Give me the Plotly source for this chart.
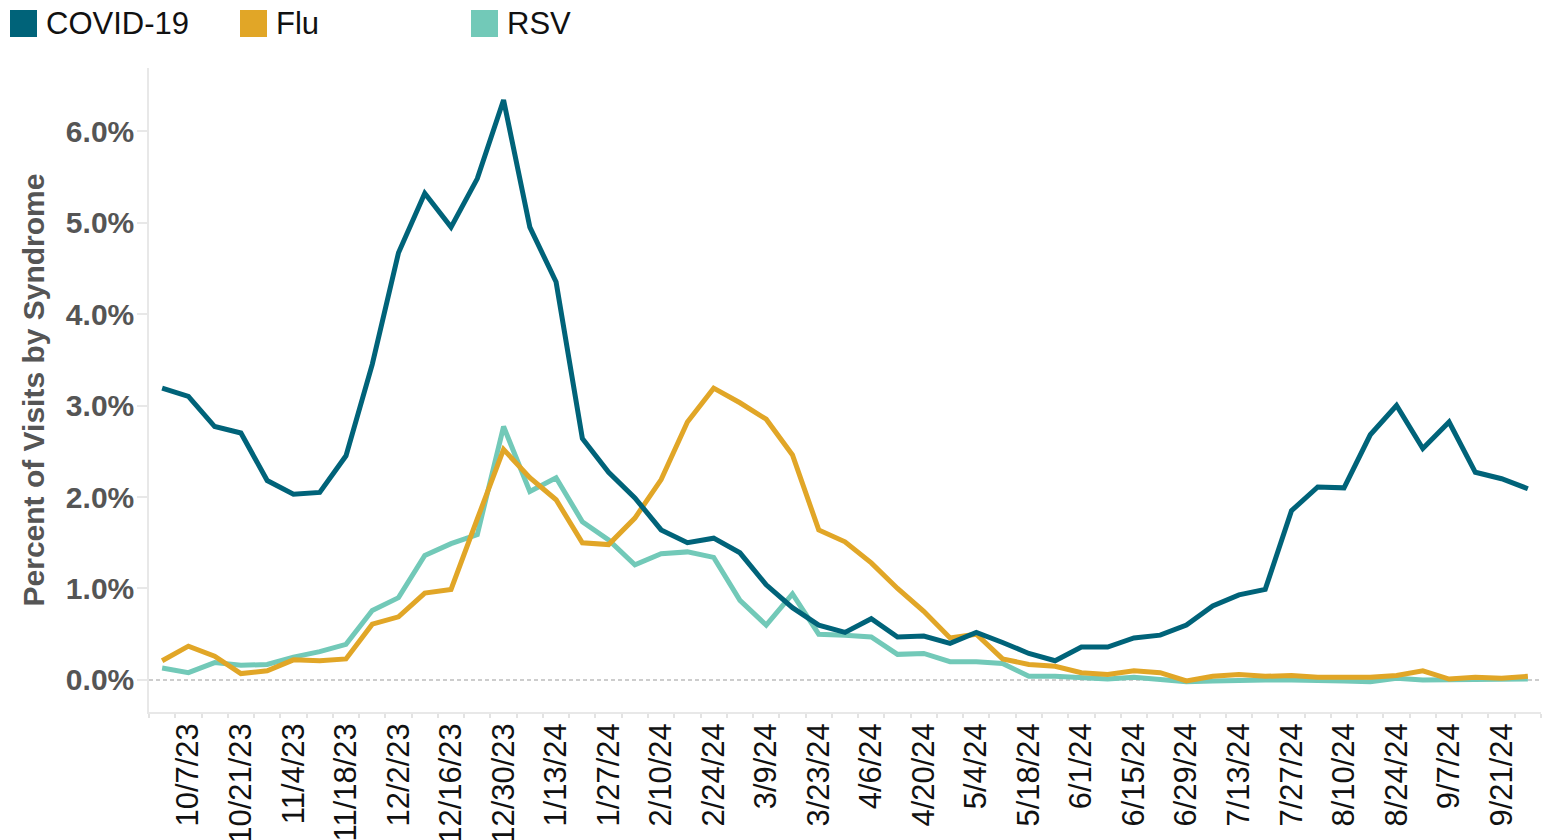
import pandas as pd
import plotly.graph_objects as go

# weekly percent of ED visits by syndrome, week ending 9/30/23 .. 9/28/24
weeks = pd.date_range("2023-09-30", periods=53, freq="7D")

covid = [3.19, 3.10, 2.77, 2.70, 2.18, 2.03, 2.05, 2.45, 3.45, 4.67, 5.32, 4.95, 5.48,
         6.34, 4.95, 4.35, 2.64, 2.27, 1.99, 1.64, 1.50, 1.55, 1.39, 1.04, 0.79, 0.60,
         0.52, 0.67, 0.47, 0.48, 0.40, 0.52, 0.41, 0.29, 0.21, 0.36, 0.36, 0.46, 0.49,
         0.60, 0.81, 0.93, 0.99, 1.85, 2.11, 2.10, 2.68, 3.00, 2.53, 2.82, 2.27, 2.20, 2.09]
flu = [0.21, 0.37, 0.26, 0.07, 0.10, 0.22, 0.21, 0.23, 0.61, 0.69, 0.95, 0.99, 1.76,
       2.52, 2.21, 1.97, 1.50, 1.48, 1.77, 2.19, 2.82, 3.19, 3.03, 2.85, 2.46, 1.64,
       1.51, 1.28, 1.00, 0.75, 0.46, 0.50, 0.23, 0.17, 0.15, 0.08, 0.06, 0.10, 0.08,
       -0.01, 0.04, 0.06, 0.04, 0.05, 0.03, 0.03, 0.03, 0.05, 0.10, 0.01, 0.03, 0.02, 0.04]
rsv = [0.13, 0.08, 0.19, 0.16, 0.17, 0.25, 0.31, 0.39, 0.76, 0.90, 1.36, 1.49, 1.59,
       2.77, 2.06, 2.21, 1.73, 1.53, 1.26, 1.38, 1.40, 1.34, 0.87, 0.60, 0.94, 0.50,
       0.49, 0.47, 0.28, 0.29, 0.20, 0.20, 0.18, 0.04, 0.04, 0.02, 0.01, 0.03, 0.00,
       -0.02, -0.01, 0.00, 0.00, 0.00, 0.00, -0.01, -0.02, 0.02, 0.00, 0.00, 0.00, 0.00, 0.01]

series_names = ["COVID-19", "Flu", "RSV"]
series_colors = ["#006379", "#E1A627", "#72C9B8"]

y_ticks = [0, 1, 2, 3, 4, 5, 6]
y_tick_text = [f"{v:.1f}%" for v in y_ticks]

tick_dates = weeks[1::2]
tick_text = [f"{d.month}/{d.day}/{d.year % 100}" for d in tick_dates]

W, H = 1548, 840
L, R, T, B = 149, 7, 68, 128
FONT = "Arial, Liberation Sans, sans-serif"


def px_x(px):
    return (px - L) / (W - L - R)


def px_y(py):
    return (H - B - py) / (H - T - B)


fig = go.Figure()

# draw RSV first so COVID ends on top
for name, vals, color in reversed(list(zip(series_names, [covid, flu, rsv], series_colors))):
    fig.add_trace(
        go.Scatter(
            x=weeks,
            y=vals,
            mode="lines",
            name=name,
            line=dict(color=color, width=5),
            showlegend=False,
            hovertemplate="%{x|%-m/%-d/%y}: %{y:.1f}%<extra>" + name + "</extra>",
        )
    )

fig.add_shape(
    type="line", xref="paper", yref="y", x0=0, x1=1, y0=0, y1=0,
    line=dict(color="#bdbdbd", width=1.5, dash="4px,3px"), layer="below",
)

# legend with square swatches
legend_x = [10, 240, 471]
for lx, name, color in zip(legend_x, series_names, series_colors):
    fig.add_shape(
        type="rect", xref="paper", yref="paper",
        x0=px_x(lx), x1=px_x(lx + 27), y0=px_y(37), y1=px_y(10),
        fillcolor=color, line=dict(width=0),
    )
    fig.add_annotation(
        x=px_x(lx + 34), y=px_y(23.5), xref="paper", yref="paper",
        text=name, showarrow=False, xanchor="left", yanchor="middle",
        font=dict(family=FONT, size=31, color="#111111"),
    )

fig.update_layout(
    width=W,
    height=H,
    margin=dict(l=L, r=R, t=T, b=B),
    plot_bgcolor="white",
    paper_bgcolor="white",
    showlegend=False,
    font=dict(family=FONT),
    xaxis=dict(
        automargin=False,
        range=["2023-09-26 12:00", "2024-10-01 12:00"],
        tickvals=tick_dates,
        ticktext=tick_text,
        tickangle=-90,
        ticks="",
        ticklabelstandoff=-3,
        tickfont=dict(family=FONT, size=31, color="#111111"),
        showgrid=False,
        zeroline=False,
        showline=True,
        linecolor="#e8e8e8",
        linewidth=1.5,
        minor=dict(
            ticks="outside",
            ticklen=4,
            tickcolor="#e3e3e3",
            tickwidth=1.5,
            tick0="2023-09-26 12:00",
            dtick=7 * 86400000,
            showgrid=False,
        ),
    ),
    yaxis=dict(
        automargin=False,
        range=[-0.35, 6.689],
        tickvals=y_ticks,
        ticktext=y_tick_text,
        ticks="outside",
        ticklen=10,
        tickcolor="#e8e8e8",
        tickwidth=1.5,
        ticklabelstandoff=-3,
        tickfont=dict(family=FONT, size=30, color="#555555", weight="bold"),
        showgrid=False,
        zeroline=False,
        showline=True,
        linecolor="#e8e8e8",
        linewidth=1.5,
        title=dict(
            text="Percent of Visits by Syndrome",
            font=dict(family=FONT, size=30, color="#555555", weight="bold"),
            standoff=12,
        ),
    ),
)

fig.write_html(
    "out.html",
    config={"displayModeBar": False},
    post_script="document.body.style.margin='0';",
)
